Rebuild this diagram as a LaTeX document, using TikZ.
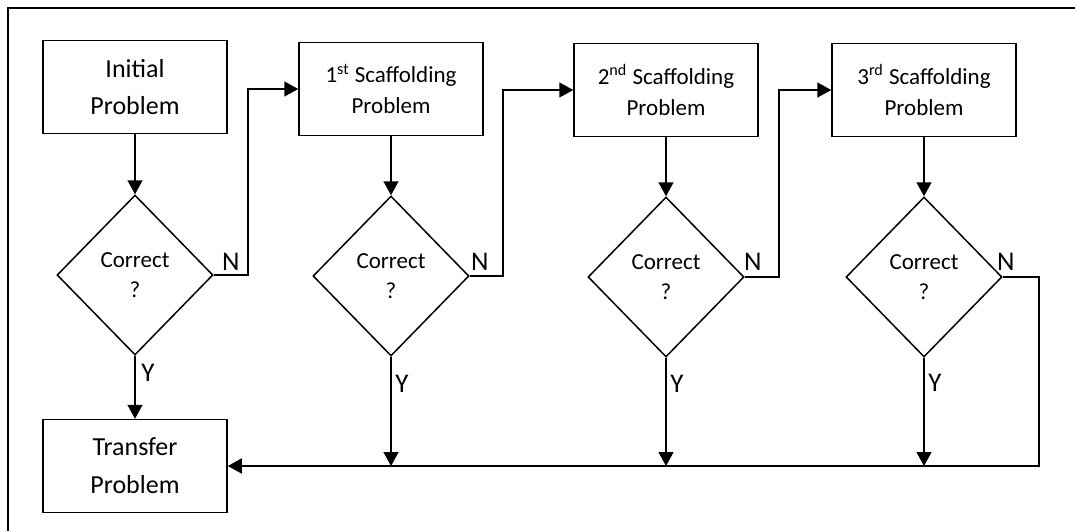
\documentclass[tikz,border=0pt]{standalone}
\usepackage{fontspec}
\setmainfont{Carlito}
\usetikzlibrary{arrows.meta,calc,positioning,shapes.geometric}
\begin{document}
\begin{tikzpicture}[->, >={Triangle[length=7pt,width=7.5pt]}, line width=0.75pt]
\tikzstyle{veld} = [draw, -, align=center, minimum width=92pt, minimum height=46.5pt, inner sep=2pt, font=\fontsize{13}{18.9}\selectfont]
\tikzstyle{stap} = [veld, font=\fontsize{11.5}{15.5}\selectfont]
\tikzstyle{keuze} = [draw, -, diamond, align=center, minimum width=78pt, minimum height=80pt, inner sep=0pt, font=\fontsize{11.5}{15}\selectfont]
\tikzstyle{antw} = [inner sep=0pt, font=\fontsize{13.5}{16}\selectfont]

\useasboundingbox (0,0) rectangle (537.5pt,-265.5pt);
\draw [-, line width=1.2pt] (4pt,-265.5pt) |- (537.5pt,-4pt);

\node [veld] (init) at (67.5pt,-43.5pt) {Initial\\Problem};
\node [keuze] (d1) [below of=init, node distance=94pt] {Correct\\?};
\draw (init) -- (d1);

\node [veld] (tr) [below of=d1, node distance=95.5pt] {Transfer\\Problem};
\draw (d1) -- (tr);

\node [stap] (s1) [right of=init, node distance=128pt, yshift=-1pt] {1\textsuperscript{st} Scaffolding\\Problem};
\draw (d1.east) -- ++(17pt,0) |- (s1.west);

\node [keuze] (d2) [below of=s1, node distance=93.5pt] {Correct\\?};
\draw (s1) -- (d2);

\node [stap] (s2) [right of=s1, node distance=137.5pt, yshift=-0.5pt] {2\textsuperscript{nd} Scaffolding\\Problem};
\draw (d2.east) -- ++(16.5pt,0) |- (s2.west);

\node [keuze] (d3) [below of=s2, node distance=93.5pt] {Correct\\?};
\draw (s2) -- (d3);

\node [stap] (s3) [right of=s2, node distance=129pt] {3\textsuperscript{rd} Scaffolding\\Problem};
\draw (d3.east) -- ++(17pt,0) |- (s3.west);

\node [keuze] (d4) [below of=s3, node distance=93.5pt] {Correct\\?};
\draw (s3) -- (d4);
\draw (d4.east) -- ++(18pt,0) |- (tr.east);

\draw (d2.south) -- (d2.south |- tr.east);
\draw (d3.south) -- (d3.south |- tr.east);
\draw (d4.south) -- (d4.south |- tr.east);

\node [antw] (n1) at ($(d1.east)+(8.5pt,6.5pt)$) {N};
\node [antw] (n2) at ($(d2.east)+(5pt,7pt)$) {N};
\node [antw] (n3) at ($(d3.east)+(4pt,7.5pt)$) {N};
\node [antw] (n4) at ($(d4.east)+(1.5pt,7.5pt)$) {N};

\node [antw] (y1) at ($(d1.south)+(6.5pt,-8.5pt)$) {Y};
\node [antw] (y2) at ($(d2.south)+(5.5pt,-13.5pt)$) {Y};
\node [antw] (y3) at ($(d3.south)+(5.5pt,-13pt)$) {Y};
\node [antw] (y4) at ($(d4.south)+(5.5pt,-12.5pt)$) {Y};

\end{tikzpicture}
\end{document}
